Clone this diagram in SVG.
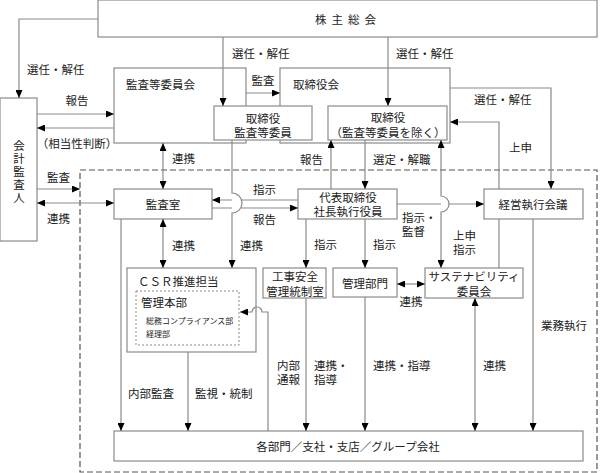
<svg xmlns="http://www.w3.org/2000/svg" width="602" height="473" viewBox="0 0 602 473">
<defs>
<marker id="ah" viewBox="0 0 8 7" markerWidth="8" markerHeight="7" refX="8" refY="3.5" orient="auto-start-reverse" markerUnits="userSpaceOnUse">
<path d="M0,0 L8,3.5 L0,7 z" fill="#000"/>
</marker>
<style>
text{font-family:"Noto Sans CJK JP","Noto Sans CJK SC",sans-serif;font-size:11.5px;fill:#222;dominant-baseline:central}
.c{text-anchor:middle}
.box{fill:#fff;stroke:#8a8a8a;stroke-width:1.2}
.ln{fill:none;stroke:#8a8a8a;stroke-width:1.2}
.a{marker-end:url(#ah)}
.b{marker-start:url(#ah);marker-end:url(#ah)}
.sm{font-size:8px}
</style>
</defs>
<rect x="80" y="170" width="517" height="302" fill="none" stroke="#555" stroke-width="1.2" stroke-dasharray="6 3"/>
<g id="kabunushi">
<rect class="box" x="98" y="0" width="499" height="37"/>
<text class="c" x="348" y="19" letter-spacing="5">株主総会</text>
</g>
<g id="kansa-iinkai">
<rect class="box" x="114" y="68" width="132" height="75"/>
<text x="126" y="84">監査等委員会</text>
</g>
<g id="torishimariyakukai">
<rect class="box" x="280" y="68" width="170" height="75"/>
<text x="293" y="84">取締役会</text>
</g>
<g id="kaikei-kansanin">
<rect class="box" x="0" y="98" width="37" height="143"/>
<text class="c" x="19" y="172" writing-mode="vertical-rl" letter-spacing="1.5">会計監査人</text>
</g>
<g id="torishimariyaku-kansa">
<rect class="box" x="214" y="106" width="98" height="34"/>
<text class="c" x="263" y="118">取締役<tspan x="263" dy="14">監査等委員</tspan></text>
</g>
<g id="torishimariyaku">
<rect class="box" x="328" y="106" width="119" height="34"/>
<text class="c" x="388" y="117">取締役<tspan x="388" dy="15">（監査等委員を除く）</tspan></text>
</g>
<g id="kansashitsu">
<rect class="box" x="114" y="189" width="98" height="30"/>
<text class="c" x="163" y="204">監査室</text>
</g>
<g id="daihyo">
<rect class="box" x="298" y="189" width="99" height="30"/>
<text class="c" x="348" y="197">代表取締役<tspan x="348" dy="14">社長執行役員</tspan></text>
</g>
<g id="keiei-shikko">
<rect class="box" x="484" y="189" width="99" height="30"/>
<text class="c" x="533" y="204">経営執行会議</text>
</g>
<g id="csr">
<rect class="box" x="127" y="268" width="129" height="84"/>
<text x="138" y="281">ＣＳＲ推進担当</text>
<rect x="136" y="291" width="103" height="54" fill="none" stroke="#8a8a8a" stroke-width="1" stroke-dasharray="2 2"/>
<text x="141" y="302">管理本部</text>
<text class="sm" x="146" y="320">総務コンプライアンス部</text>
<text class="sm" x="146" y="333">経理部</text>
</g>
<g id="koji-anzen">
<rect class="box" x="263" y="268" width="63" height="30"/>
<text class="c" x="295" y="276">工事安全<tspan x="295" dy="15">管理統制室</tspan></text>
</g>
<g id="kanri-bumon">
<rect class="box" x="333" y="268" width="64" height="29"/>
<text class="c" x="365" y="283">管理部門</text>
</g>
<g id="sustainability">
<rect class="box" x="425" y="268" width="98" height="30"/>
<text class="c" x="474" y="276">サステナビリティ<tspan x="474" dy="15">委員会</tspan></text>
</g>
<g id="kakubumon">
<rect class="box" x="114" y="431" width="469" height="30"/>
<text class="c" x="348" y="446">各部門／支社・支店／グループ会社</text>
</g>
<g id="connectors">
<path class="ln a" d="M98,19 H19 V98"/>
<path class="ln a" d="M223,37 V106"/>
<path class="ln a" d="M388,37 V106"/>
<path class="ln a" d="M450,88 H551 V189"/>
<path class="ln a" d="M37,114 H114"/>
<path class="ln a" d="M114,128 H37"/>
<path class="ln a" d="M246,93 H280"/>
<path class="ln a" d="M499,268 V219 M499,189 V122 H450"/>
<path class="ln b" d="M163,143 V189"/>
<path class="ln a" d="M331,189 V140"/>
<path class="ln a" d="M365,140 V189"/>
<path class="ln b" d="M441,140 V196 a8,8 0 0 1 0,16 V268"/>
<path class="ln a" d="M37,189 H80"/>
<path class="ln b" d="M37,203 H114"/>
<path class="ln a" d="M298,200 H241.5 M232,200 H212"/>
<path class="ln a" d="M212,208 H232 M240.7,208 H298"/>
<path class="ln a" d="M232,140 V193 a10,10 0 0 1 0,20 V268"/>
<path class="ln a" d="M397,204 H441 M449,204 H484"/>
<path class="ln b" d="M163,219 V268"/>
<path class="ln a" d="M306,219 V268"/>
<path class="ln a" d="M365,219 V268"/>
<path class="ln b" d="M397,284 H425"/>
<path class="ln a" d="M121,219 V431"/>
<path class="ln a" d="M188,352 V431"/>
<path class="ln a" d="M268,431 V312 H262 a5,5 0 0 0 -10,0 H240"/>
<path class="ln a" d="M306,298 V431"/>
<path class="ln a" d="M365,297 V431"/>
<path class="ln b" d="M475,298 V431"/>
<path class="ln a" d="M533,219 V431"/>
</g>
<g id="labels">
<text x="27" y="69">選任・解任</text>
<text class="c" x="77" y="100">報告</text>
<text class="c" x="77" y="143">（相当性判断）</text>
<text class="c" x="263" y="80">監査</text>
<text x="232" y="53">選任・解任</text>
<text x="396" y="53">選任・解任</text>
<text x="474" y="99">選任・解任</text>
<text x="509" y="147">上申</text>
<text x="172" y="158">連携</text>
<text x="300" y="159">報告</text>
<text x="373" y="159">選定・解職</text>
<text x="47" y="177">監査</text>
<text x="47" y="218">連携</text>
<text x="253" y="189">指示</text>
<text x="253" y="219">報告</text>
<text x="402" y="217">指示・<tspan x="402" dy="14">監督</tspan></text>
<text x="453" y="235">上申<tspan x="453" dy="14">指示</tspan></text>
<text x="172" y="245">連携</text>
<text x="240" y="245">連携</text>
<text x="314" y="244">指示</text>
<text x="373" y="244">指示</text>
<text class="c" x="411" y="301">連携</text>
<text x="541" y="325">業務執行</text>
<text x="277" y="365">内部<tspan x="277" dy="14">通報</tspan></text>
<text x="314" y="365">連携・<tspan x="314" dy="14">指導</tspan></text>
<text x="373" y="365">連携・指導</text>
<text x="483" y="365">連携</text>
<text x="128" y="393">内部監査</text>
<text x="195" y="393">監視・統制</text>
</g>
</svg>
